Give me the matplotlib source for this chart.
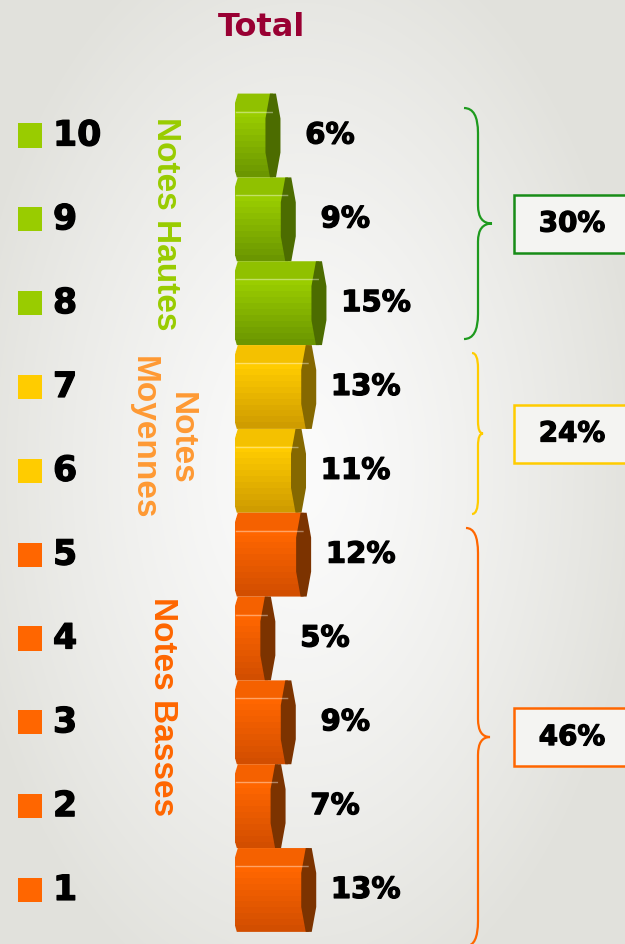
import numpy as np
import matplotlib
matplotlib.use('Agg')
import matplotlib.pyplot as plt
import matplotlib.colors as mcolors
import matplotlib.patheffects as pe
from matplotlib.path import Path
from matplotlib.patches import Polygon, Rectangle, PathPatch

# données
notes = [10, 9, 8, 7, 6, 5, 4, 3, 2, 1]
pourcentages = [6, 9, 15, 13, 11, 12, 5, 9, 7, 13]
groupes = ['Notes Hautes', 'Notes\nMoyennes', 'Notes Basses']
notes_groupe = [[10, 9, 8], [7, 6], [5, 4, 3, 2, 1]]
titre = 'Total'

# styles par groupe
styles = [
    dict(carre='#99cc00', haut='#9acd00', bas='#6b9600', tranche='#4c6c00',
         texte='#99cc00', accolade='#1e9a1e', cadre='#178c17'),
    dict(carre='#ffcc00', haut='#ffcc00', bas='#cf9c00', tranche='#856800',
         texte='#ff9933', accolade='#ffcc00', cadre='#ffcc00'),
    dict(carre='#ff6600', haut='#ff6600', bas='#d24e00', tranche='#7c3300',
         texte='#ff6600', accolade='#ff6600', cadre='#ff6600'),
]

W, H = 625, 944
PX = 5.11          # pixels par point de pourcentage
X0 = 242.3         # pixel du zéro
ROW = 83.83        # pixels entre deux notes
Y10 = 135.5        # pixel de la note 10

gras = [pe.withStroke(linewidth=0.9, foreground='black')]


def dx(p):
    return p / PX


def dy(p):
    return p / ROW


fig = plt.figure(figsize=(W / 100, H / 100), dpi=100)

# fond dégradé
bg = fig.add_axes([0, 0, 1, 1])
bg.axis('off')
yy, xx = np.mgrid[0:H, 0:W]
r = np.sqrt(((xx - 300) / 340.0) ** 2 + ((yy - 470) / 560.0) ** 2)
t = np.clip(r, 0, 1) ** 1.3
clair = np.array([0.985, 0.985, 0.985])
gris = np.array([0.885, 0.885, 0.865])
img = clair * (1 - t[..., None]) + gris * t[..., None]
bg.imshow(img, extent=[0, 1, 0, 1], aspect='auto')

ax = fig.add_axes([0, 0, 1, 1])
ax.set_xlim(-X0 / PX, (W - X0) / PX)
ax.set_ylim(10 - (H - Y10) / ROW, 10 + Y10 / ROW)
ax.axis('off')
bt = ax.get_yaxis_transform()   # x en fraction, y en données


def groupe_de(n):
    for i, g in enumerate(notes_groupe):
        if n in g:
            return i


# barres 3D
h = 1.0
n_bandes = 14
xl = -dx(7.5)
for n, v in zip(notes, pourcentages):
    st = styles[groupe_de(n)]
    top, bot = n + h / 2, n - h / 2
    face = [(xl + dx(3), top), (v, top), (v, bot), (xl + dx(2), bot),
            (xl, bot + dy(7)), (xl, top - dy(10))]
    clip = Path(face + [face[0]], closed=True)
    c1 = np.array(mcolors.to_rgb(st['haut']))
    c2 = np.array(mcolors.to_rgb(st['bas']))
    for k in range(n_bandes):
        if k < 3:
            f = 0.22
        else:
            f = (k - 3) / (n_bandes - 4)
        col = c1 * (1 - f) + c2 * f
        yc = top - (k + 0.5) * h / n_bandes
        bars = ax.barh(yc, v - xl, left=xl, height=h / n_bandes * 1.15,
                       color=col, linewidth=0)
        for b in bars:
            b.set_clip_path(clip, ax.transData)
    # reflet
    yl = top - 0.215 * h
    ligne, = ax.plot([xl + dx(1), v], [yl, yl], color='white', alpha=0.4, lw=1)
    ligne.set_clip_path(clip, ax.transData)
    # tranche
    hw = dx(7.5)
    hx = dx(3.0)
    cap = [(v - hx, top), (v + hx, top), (v + hw, n + dy(17)), (v + hw, n - dy(17)),
           (v + hx, bot), (v - hx, bot), (v - hw, n - dy(17)), (v - hw, n + dy(17))]
    ax.add_patch(Polygon(cap, closed=True, fc=st['tranche'], ec='none'))
    ax.text(v + dx(57), n, f'{v}%', ha='center', va='center', family='DejaVu Sans',
            fontsize=21, fontweight='bold', color='black', path_effects=gras)

# légende à gauche
ax.scatter([30 / W] * len(notes), notes, marker='s', s=300,
           c=[styles[groupe_de(n)]['carre'] for n in notes], transform=bt,
           linewidths=0)
for n in notes:
    ax.text(53 / W, n, str(n), transform=bt, ha='left', va='center',
            family='DejaVu Sans', fontsize=25, fontweight='bold',
            color='black', path_effects=gras)

# étiquettes de groupe
lab_x = [165, 162, 163]
lab_dy = [-0.056, -0.108, 0.184]
for i, g in enumerate(groupes):
    yc = np.mean(notes_groupe[i]) + lab_dy[i]
    ax.text(lab_x[i] / W, yc, g, transform=bt, rotation=-90, ha='center',
            va='center', multialignment='center', family='Liberation Sans',
            fontweight='bold', fontsize=24, color=styles[i]['texte'],
            linespacing=1.3)

# accolades et totaux
acc_x = [(464, 478, 492), (472, 478, 483), (466, 478, 490)]
acc_pad = [(0.172, 0.072), (0.095, -0.015), (0.182, -0.169)]
acc_r = [(25, 18), (15, 12), (25, 18)]
for i, g in enumerate(notes_groupe):
    st = styles[i]
    x_l, x_m, x_t = [p / W for p in acc_x[i]]
    y_hi = max(g) + 0.5 - acc_pad[i][0]
    y_lo = min(g) - 0.5 + acc_pad[i][1]
    ym = (y_hi + y_lo) / 2
    re, rm = dy(acc_r[i][0]), dy(acc_r[i][1])
    verts = [(x_l, y_hi), (x_m, y_hi), (x_m, y_hi - re), (x_m, ym + rm),
             (x_m, ym), (x_t, ym), (x_m, ym), (x_m, ym - rm),
             (x_m, y_lo + re), (x_m, y_lo), (x_l, y_lo)]
    codes = [Path.MOVETO, Path.CURVE3, Path.CURVE3, Path.LINETO,
             Path.CURVE3, Path.CURVE3, Path.CURVE3, Path.CURVE3,
             Path.LINETO, Path.CURVE3, Path.CURVE3]
    ax.add_patch(PathPatch(Path(verts, codes), fc='none', ec=st['accolade'],
                           lw=1.6, transform=bt))
    total = sum(pourcentages[notes.index(n)] for n in g)
    ax.add_patch(Rectangle((514 / W, ym - dy(29)), 0.2, dy(58), transform=bt,
                           fc='#f4f4f2', ec=st['cadre'], lw=1.8))
    ax.text(572 / W, ym, f'{total}%', transform=bt, ha='center', va='center',
            family='DejaVu Sans', fontsize=20, fontweight='bold',
            color='black', path_effects=gras)

fig.text(262 / W, 1 - 27 / H, titre, ha='center', va='center', fontsize=23,
         family='DejaVu Sans', fontweight='bold', color='#990033')

fig.savefig('out.png', dpi=100)
